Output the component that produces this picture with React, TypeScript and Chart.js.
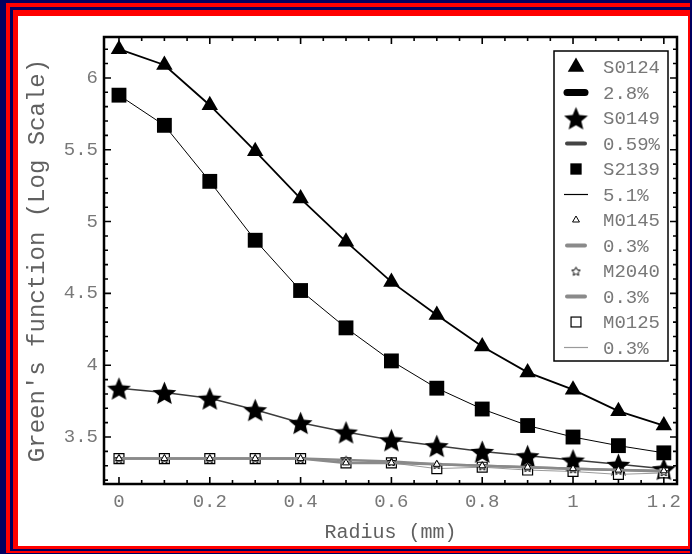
import React, { useEffect, useRef } from "react";
import { Chart, registerables } from "chart.js";

Chart.register(...registerables);

// ---------- data ----------
const radius = [0, 0.1, 0.2, 0.3, 0.4, 0.5, 0.6, 0.7, 0.8, 0.9, 1.0, 1.1, 1.2];
const s0124 = [6.2, 6.09, 5.81, 5.49, 5.16, 4.86, 4.58, 4.35, 4.13, 3.95, 3.83, 3.68, 3.58];
const s0149 = [3.84, 3.81, 3.77, 3.69, 3.6, 3.535, 3.48, 3.44, 3.4, 3.37, 3.34, 3.31, 3.28];
const s2139 = [5.88, 5.67, 5.28, 4.87, 4.52, 4.26, 4.03, 3.84, 3.695, 3.58, 3.5, 3.44, 3.39];
const m0145 = [3.35, 3.35, 3.35, 3.35, 3.35, 3.32, 3.32, 3.31, 3.3, 3.29, 3.28, 3.27, 3.265];
const m2040 = [3.35, 3.35, 3.35, 3.35, 3.35, 3.34, 3.33, 3.31, 3.3, 3.29, 3.28, 3.27, 3.26];
const m0125 = [3.35, 3.35, 3.35, 3.35, 3.35, 3.32, 3.32, 3.28, 3.29, 3.27, 3.26, 3.24, 3.25];

const seriesNames = ["S0124", "S0149", "S2139", "M0145", "M2040", "M0125"];
const seriesPercents = ["2.8%", "0.59%", "5.1%", "0.3%", "0.3%", "0.3%"];

const xTicks = [0, 0.2, 0.4, 0.6, 0.8, 1, 1.2];
const yTicks = [3.5, 4, 4.5, 5, 5.5, 6];
const xTitle = "Radius (mm)";
const yTitle = "Green's function (Log Scale)";

// ---------- styles ----------
const MONO = "'Liberation Mono', 'DejaVu Sans Mono', monospace";
const GREY_TEXT = "#787878";

function starCanvas(size: number, fill: string, stroke: string, lw: number, inner: number) {
  const c = document.createElement("canvas");
  c.width = size;
  c.height = size;
  const ctx = c.getContext("2d")!;
  const cx = size / 2;
  const cy = size / 2 + size * 0.06;
  const R = size / 2 - lw;
  const r = R * inner;
  ctx.beginPath();
  for (let i = 0; i < 10; i++) {
    const a = -Math.PI / 2 + (i * Math.PI) / 5;
    const rr = i % 2 === 0 ? R : r;
    ctx.lineTo(cx + rr * Math.cos(a), cy + rr * Math.sin(a));
  }
  ctx.closePath();
  ctx.fillStyle = fill;
  ctx.fill();
  if (lw > 0) {
    ctx.lineWidth = lw;
    ctx.strokeStyle = stroke;
    ctx.stroke();
  }
  return c;
}

export default function App() {
  const ref = useRef<HTMLCanvasElement | null>(null);

  useEffect(() => {
    const canvas = ref.current!;
    const bigStar = starCanvas(25, "#000", "#000", 0, 0.45);
    const smallStar = starCanvas(11, "#fff", "#000", 1, 0.5);

    const styles = [
      { data: s0124, color: "#000", width: 1.8, point: "triangle" as any, r: 9.5, bg: "#000", bw: 0 },
      { data: s0149, color: "#3c3c3c", width: 1.5, point: bigStar as any, r: 11, bg: "#000", bw: 0 },
      { data: s2139, color: "#000", width: 1, point: "rect" as any, r: 10.5, bg: "#000", bw: 0 },
      { data: m0145, color: "#8a8a8a", width: 2.5, point: "triangle" as any, r: 4, bg: "#fff", bw: 1 },
      { data: m2040, color: "#8a8a8a", width: 2.5, point: smallStar as any, r: 5, bg: "#fff", bw: 1 },
      { data: m0125, color: "#9a9a9a", width: 1, point: "rect" as any, r: 7, bg: "#fff", bw: 1.2 },
    ];
    const legendLineWidths = [7, 4, 1.2, 4, 4, 1.2];
    const legendLineColors = ["#000", "#444", "#000", "#8a8a8a", "#8a8a8a", "#9a9a9a"];
    // draw order: small markers on top
    const drawOrder = [5, 3, 4, 0, 1, 2];

    const datasets = styles.map((s, i) => ({
      label: seriesNames[i],
      data: radius.map((x, k) => ({ x, y: s.data[k] })),
      borderColor: s.color,
      borderWidth: s.width,
      pointStyle: s.point,
      pointRadius: s.r,
      pointBackgroundColor: s.bg,
      pointBorderColor: "#000",
      pointBorderWidth: s.bw,
      tension: 0,
      clip: false as any,
      order: drawOrder[i],
    }));

    const framePlugin = {
      id: "frame",
      afterDatasetsDraw(chart: any) {
        const { ctx, chartArea: a, scales } = chart;
        const x = scales.x;
        const y = scales.y;
        ctx.save();
        ctx.strokeStyle = "#000";
        ctx.lineWidth = 1.6;
        ctx.beginPath();
        for (let k = 0; k <= 24; k++) {
          const v = k * 0.05;
          const px = x.getPixelForValue(v);
          if (px < a.left || px > a.right) continue;
          const L = k % 4 === 0 ? 7 : 4;
          ctx.moveTo(px, a.bottom);
          ctx.lineTo(px, a.bottom - L);
          ctx.moveTo(px, a.top);
          ctx.lineTo(px, a.top + L);
        }
        for (let k = 32; k <= 62; k++) {
          const v = k / 10;
          const py = y.getPixelForValue(v);
          if (py < a.top || py > a.bottom) continue;
          const L = k % 5 === 0 ? 7 : 4;
          ctx.moveTo(a.left, py);
          ctx.lineTo(a.left + L, py);
          ctx.moveTo(a.right, py);
          ctx.lineTo(a.right - L, py);
        }
        ctx.stroke();
        ctx.lineWidth = 2.5;
        ctx.strokeRect(a.left, a.top, a.right - a.left, a.bottom - a.top);
        ctx.restore();
      },
      afterDraw(chart: any) {
        const { ctx } = chart;
        const bx = 554, by = 51, bw = 114, bh = 310;
        ctx.save();
        ctx.fillStyle = "#fff";
        ctx.fillRect(bx, by, bw, bh);
        ctx.strokeStyle = "#000";
        ctx.lineWidth = 1.5;
        ctx.strokeRect(bx, by, bw, bh);
        const step = 25.5;
        const mx = 576;
        const tx = 603;
        ctx.font = `19px ${MONO}`;
        ctx.textBaseline = "middle";
        ctx.textAlign = "left";
        styles.forEach((s, i) => {
          const yA = 67 + i * 2 * step;
          const yB = yA + step;
          // marker
          ctx.save();
          ctx.fillStyle = s.bg;
          ctx.strokeStyle = "#000";
          ctx.lineWidth = s.bw || 1;
          const lr = i === 0 ? 9.5 : i === 2 ? 8 : s.r;
          if (s.point === "triangle") {
            ctx.beginPath();
            ctx.moveTo(mx, yA - lr);
            ctx.lineTo(mx + lr * Math.sin(Math.PI / 3), yA + lr / 2);
            ctx.lineTo(mx - lr * Math.sin(Math.PI / 3), yA + lr / 2);
            ctx.closePath();
            ctx.fill();
            if (s.bw) ctx.stroke();
          } else if (s.point === "rect") {
            const h = lr / Math.SQRT2;
            ctx.fillRect(mx - h, yA - h, 2 * h, 2 * h);
            if (s.bw) ctx.strokeRect(mx - h, yA - h, 2 * h, 2 * h);
          } else {
            const img = s.point as HTMLCanvasElement;
            ctx.drawImage(img, mx - img.width / 2, yA - img.height / 2);
          }
          ctx.restore();
          // line sample
          ctx.save();
          ctx.strokeStyle = legendLineColors[i];
          ctx.lineWidth = legendLineWidths[i];
          ctx.lineCap = legendLineWidths[i] > 2 ? "round" : "butt";
          ctx.beginPath();
          const half = legendLineWidths[i] > 2 ? 9 : 12;
          ctx.moveTo(mx - half, yB);
          ctx.lineTo(mx + half, yB);
          ctx.stroke();
          ctx.restore();
          ctx.fillStyle = GREY_TEXT;
          ctx.fillText(seriesNames[i], tx, yA + 1);
          ctx.fillText(seriesPercents[i], tx, yB + 1);
        });
        ctx.restore();
      },
    };

    const chart = new Chart(canvas, {
      type: "line",
      data: { datasets: datasets as any },
      plugins: [framePlugin as any],
      options: {
        animation: false,
        responsive: false,
        maintainAspectRatio: false,
        layout: { padding: { left: 0, top: 37, right: 15, bottom: 0 } },
        plugins: { legend: { display: false }, tooltip: { enabled: false } },
        elements: { line: { borderCapStyle: "butt" } },
        scales: {
          x: {
            type: "linear",
            min: -0.033,
            max: 1.229,
            grid: { display: false, drawTicks: false },
            border: { display: false },
            afterFit: (s: any) => {
              s.height = 70;
            },
            afterBuildTicks: (s: any) => {
              s.ticks = xTicks.map((v) => ({ value: v }));
            },
            ticks: {
              padding: 7,
              color: GREY_TEXT,
              font: { family: MONO, size: 19 },
              maxRotation: 0,
              autoSkip: false,
              callback: (v: any) => String(Math.round(Number(v) * 10) / 10),
            },
            title: {
              display: true,
              text: xTitle,
              color: "#606060",
              font: { family: MONO, size: 20 },
              padding: { top: 9, bottom: 9 },
            },
          },
          y: {
            type: "linear",
            min: 3.173,
            max: 6.285,
            grid: { display: false, drawTicks: false },
            border: { display: false },
            afterFit: (s: any) => {
              s.width = 104;
            },
            afterBuildTicks: (s: any) => {
              s.ticks = yTicks.map((v) => ({ value: v }));
            },
            ticks: {
              padding: 6,
              color: GREY_TEXT,
              font: { family: MONO, size: 19 },
              autoSkip: false,
              callback: (v: any) => String(Math.round(Number(v) * 10) / 10),
            },
            title: {
              display: true,
              text: yTitle,
              color: "#606060",
              font: { family: MONO, size: 24 },
              padding: { top: 23, bottom: 0 },
            },
          },
        },
      },
    });
    return () => chart.destroy();
  }, []);

  const navy = "#000060";
  const red = "#ff0000";
  return (
    <div
      style={{
        position: "absolute",
        left: 0,
        top: 0,
        width: 692,
        height: 554,
        background: navy,
        overflow: "hidden",
      }}
    >
      <div style={{ position: "absolute", left: 6, top: 3, width: 684, height: 550, background: red }} />
      <div style={{ position: "absolute", left: 10, top: 7, width: 680, height: 544, background: navy }} />
      <div style={{ position: "absolute", left: 13, top: 10, width: 677, height: 539, background: red }} />
      <div style={{ position: "absolute", left: 18, top: 16, width: 670, height: 530, background: "#fff" }} />
      <canvas
        ref={ref}
        width={692}
        height={554}
        style={{ position: "absolute", left: 0, top: 0, width: 692, height: 554 }}
      />
    </div>
  );
}
